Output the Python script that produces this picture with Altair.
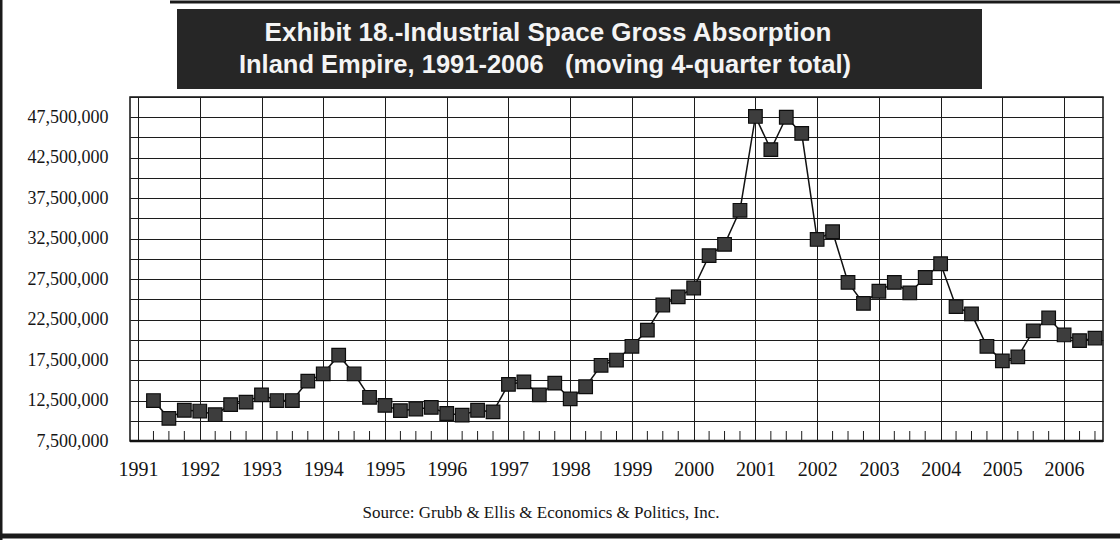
import altair as alt
import pandas as pd

# ---- data (millions of sq ft, moving 4-quarter total) ----
years = list(range(1991, 2007))
first_period = (1991, 2)  # first plotted quarter position = 1991.25
values_m = [
    12.5, 10.3, 11.3, 11.2, 10.75, 12.0, 12.3, 13.2, 12.5, 12.5,
    14.9, 15.8, 18.1, 15.8, 12.9, 11.9, 11.25, 11.45, 11.65, 10.9,
    10.7, 11.3, 11.1, 14.5, 14.8, 13.2, 14.65, 12.7, 14.2, 16.85,
    17.5, 19.2, 21.2, 24.3, 25.3, 26.4, 30.4, 31.8, 36.0, 47.6,
    43.5, 47.5, 45.5, 32.4, 33.35, 27.1, 24.5, 26.0, 27.1, 25.8,
    27.7, 29.4, 24.1, 23.2, 19.2, 17.4, 17.9, 21.1, 22.7, 20.6,
    19.9, 20.2,
]
y_ticks = [7_500_000 + 2_500_000 * k for k in range(18)]  # 7.5M .. 50M gridlines
title_line1 = "Exhibit 18.-Industrial Space Gross Absorption"
title_line2 = "Inland Empire, 1991-2006\u00a0\u00a0 (moving 4-quarter total)"
source_text = "Source:  Grubb & Ellis & Economics & Politics, Inc."

# ---- tables ----
periods = []
yr, q = first_period
for _ in values_m:
    periods.append(yr + (q - 1) * 0.25)
    q += 1
    if q > 4:
        q = 1
        yr += 1
df = pd.DataFrame({"t": periods, "v": [v * 1_000_000 for v in values_m]})

x_min, x_max = 1990.87, 2006.63
minor = [y + f for y in years for f in (0.25, 0.5, 0.75) if y + f < x_max]
df_minor = pd.DataFrame({"t": minor})
one = pd.DataFrame({"a": [0]})

W, H = 973, 344

x_scale = alt.Scale(domain=[x_min, x_max], nice=False, zero=False)
y_scale = alt.Scale(domain=[7_500_000, 50_000_000], nice=False, zero=False)

x_axis = alt.Axis(
    values=years, format="d", grid=True, gridColor="#1c1c1c", gridWidth=1,
    ticks=False, domain=False, labelFont="Liberation Serif", labelFontSize=20,
    labelColor="#151515", labelPadding=18, title=None, labelFlush=False,
)
y_axis = alt.Axis(
    values=y_ticks, grid=True, gridColor="#1c1c1c", gridWidth=1,
    ticks=False, domain=False, labelFont="Liberation Serif", labelFontSize=18,
    labelColor="#151515", labelPadding=22, title=None,
    labelExpr="datum.value % 5000000 == 2500000 ? format(datum.value, ',') : ''",
)

X = alt.X("t:Q", scale=x_scale, axis=x_axis)
Y = alt.Y("v:Q", scale=y_scale, axis=y_axis)

line = alt.Chart(df).mark_line(color="#111111", strokeWidth=1.5).encode(x=X, y=Y)
pts = alt.Chart(df).mark_square(
    size=185, fill="#3d3d3d", stroke="#0d0d0d", strokeWidth=1.2, opacity=1
).encode(x=X, y=Y)

ticks = alt.Chart(df_minor).mark_rule(color="#1c1c1c", strokeWidth=1).encode(
    x=X, y=alt.value(H - 10), y2=alt.value(H)
)

bottom_axis = alt.Chart(one).mark_rule(color="#111111", strokeWidth=2.5).encode(
    x=alt.value(0), x2=alt.value(W), y=alt.value(H)
)

title_box = alt.Chart(one).mark_rect(color="#262626").encode(
    x=alt.value(47), x2=alt.value(852), y=alt.value(-88), y2=alt.value(-8)
)
t1 = alt.Chart(one).mark_text(
    font="Liberation Sans", fontWeight="bold", fontSize=26, color="#f4f4f4",
    align="center", baseline="alphabetic",
).encode(x=alt.value(418), y=alt.value(-56), text=alt.value(title_line1))
t2 = alt.Chart(one).mark_text(
    font="Liberation Sans", fontWeight="bold", fontSize=25.5, color="#f4f4f4",
    align="center", baseline="alphabetic",
).encode(x=alt.value(415), y=alt.value(-24), text=alt.value(title_line2))

src = alt.Chart(one).mark_text(
    font="Liberation Serif", fontSize=17, color="#151515",
    align="center", baseline="alphabetic",
).encode(x=alt.value(411), y=alt.value(421), text=alt.value(source_text))

frame_left = alt.Chart(one).mark_rule(color="#1a1a1a", strokeWidth=3).encode(
    x=alt.value(-129), y=alt.value(-97), y2=alt.value(443)
)
frame_bottom = alt.Chart(one).mark_rule(color="#1a1a1a", strokeWidth=5).encode(
    x=alt.value(-130), x2=alt.value(990), y=alt.value(439)
)
frame_top = alt.Chart(one).mark_rule(color="#1a1a1a", strokeWidth=3).encode(
    x=alt.value(40), x2=alt.value(990), y=alt.value(-95)
)

chart = alt.layer(
    ticks, bottom_axis, line, pts, title_box, t1, t2, src,
    frame_left, frame_bottom, frame_top,
).properties(
    width=W, height=H,
    autosize=alt.AutoSizeParams(type="none"),
    padding={"left": 130, "top": 97, "right": 17, "bottom": 99},
    background="white",
).configure_view(stroke="#111111", strokeWidth=1.5)

chart.save("out.html", embed_options={"renderer": "svg", "actions": False})
